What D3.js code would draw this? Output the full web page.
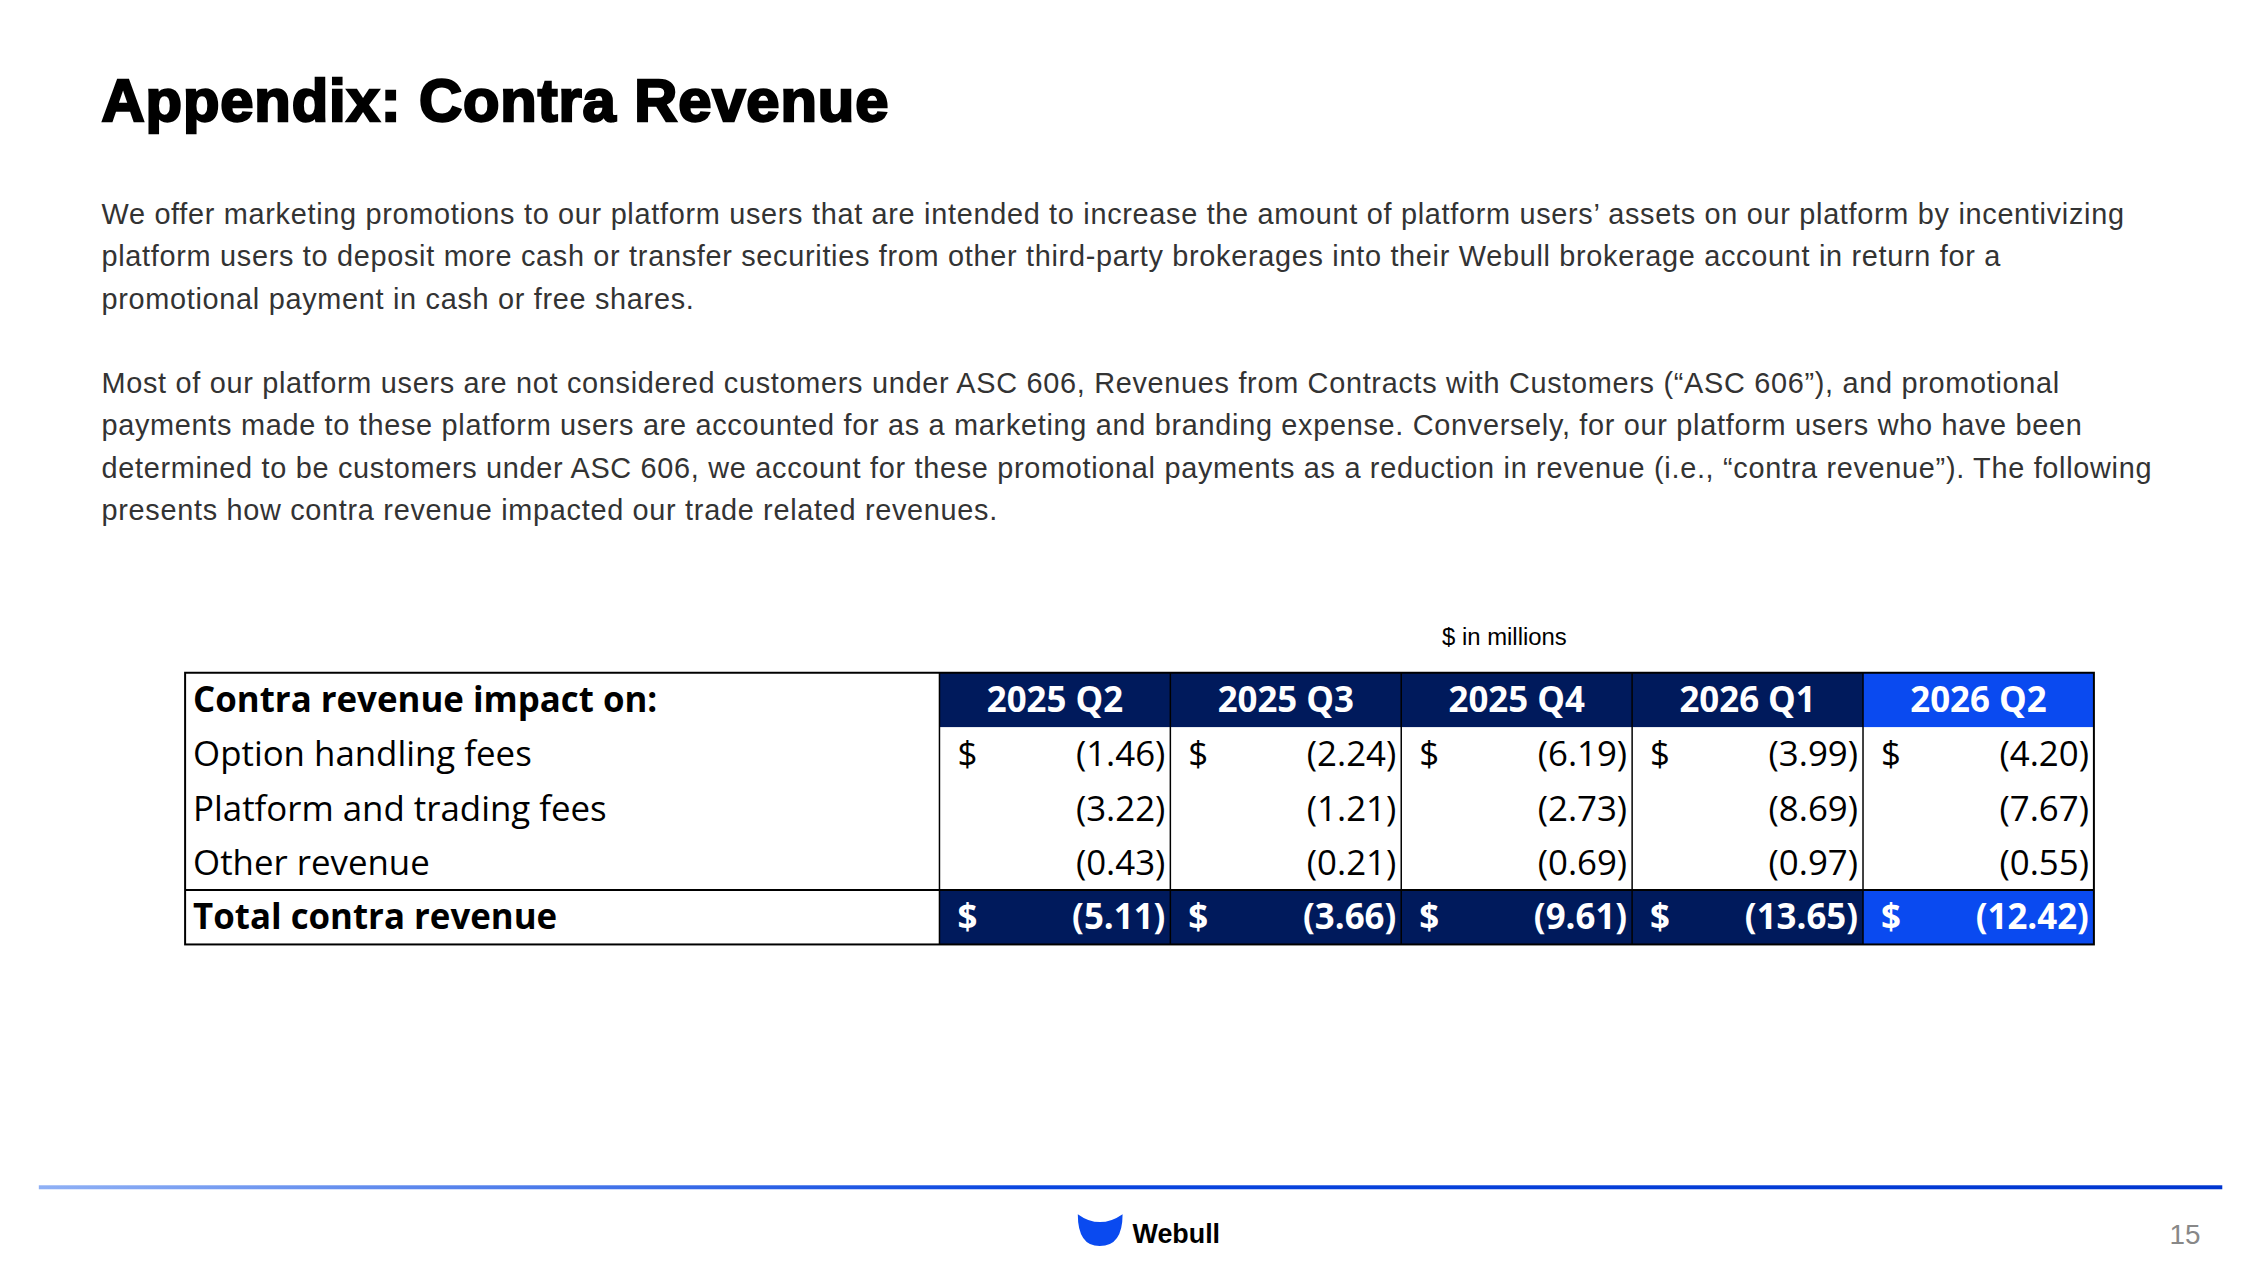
<!DOCTYPE html>
<html><head><meta charset="utf-8">
<script src="https://cdn.jsdelivr.net/npm/d3@7"></script>
<style>body{margin:0;background:#fff}svg{display:block}</style>
</head><body>
<script>
const quarters = ["2025 Q2","2025 Q3","2025 Q4","2026 Q1","2026 Q2"];
const rowLabels = ["Option handling fees","Platform and trading fees","Other revenue"];
const optionFees = [-1.46,-2.24,-6.19,-3.99,-4.20];
const platformFees = [-3.22,-1.21,-2.73,-8.69,-7.67];
const otherRevenue = [-0.43,-0.21,-0.69,-0.97,-0.55];
const totalContra = [-5.11,-3.66,-9.61,-13.65,-12.42];
const para1 = [
"We offer marketing promotions to our platform users that are intended to increase the amount of platform users’ assets on our platform by incentivizing",
"platform users to deposit more cash or transfer securities from other third-party brokerages into their Webull brokerage account in return for a",
"promotional payment in cash or free shares."];
const para2 = [
"Most of our platform users are not considered customers under ASC 606, Revenues from Contracts with Customers (“ASC 606”), and promotional",
"payments made to these platform users are accounted for as a marketing and branding expense. Conversely, for our platform users who have been",
"determined to be customers under ASC 606, we account for these promotional payments as a reduction in revenue (i.e., “contra revenue”).  The following",
"presents how contra revenue impacted our trade related revenues."];

const W=2267,H=1275;
const root=d3.select("body").append("svg").attr("width",W).attr("height",H);
const svg=root.append("g").attr("transform","scale(0.9952)");
svg.append("text").attr("x",102).attr("y",122).text("Appendix: Contra Revenue")
  .attr("font-family","Liberation Sans, Arial").attr("font-weight",900).attr("font-size",60)
  .attr("fill","#000").attr("stroke","#000").attr("stroke-width",2.4).attr("letter-spacing",0.9);
const pf="Liberation Sans, Arial";
para1.forEach((t,i)=>svg.append("text").attr("x",102).attr("y",225+i*42.5).text(t).attr("font-family",pf).attr("font-size",29).attr("letter-spacing",0.7).attr("fill","#333"));
para2.forEach((t,i)=>svg.append("text").attr("x",102).attr("y",395+i*42.5).text(t).attr("font-family",pf).attr("font-size",29).attr("letter-spacing",0.7).attr("fill","#333"));
svg.append("text").attr("x",1449).attr("y",648).text("$ in millions").attr("font-family",pf).attr("font-size",24).attr("fill","#000");

const tf="Liberation Sans Narrow, Open Sans, sans-serif";
const x=d3.scaleBand().domain(quarters).range([944,2104]);
const rowsKeys=["head",...rowLabels,"total"];
const y=d3.scaleBand().domain(rowsKeys).range([676,949]);
const dark="#001A5C", bright="#0A4AF0";
const g=svg.append("g");
const fs=35;
["head","total"].forEach(r=>{
  quarters.forEach((q,i)=>g.append("rect").attr("x",x(q)).attr("y",y(r)).attr("width",x.bandwidth()).attr("height",y.bandwidth())
    .attr("fill",i===4?bright:dark));
});
g.append("text").attr("x",194).attr("y",y("head")+y.bandwidth()/2+12).text("Contra revenue impact on:").attr("font-family",tf).attr("font-size",fs).attr("font-weight",700);
quarters.forEach(q=>g.append("text").attr("x",x(q)+x.bandwidth()/2).attr("y",y("head")+y.bandwidth()/2+12).attr("text-anchor","middle")
  .text(q).attr("font-family",tf).attr("font-size",fs).attr("font-weight",700).attr("fill","#fff"));
const fmt=v=>"("+Math.abs(v).toFixed(2)+")";
const series=[optionFees,platformFees,otherRevenue];
rowLabels.forEach((r,ri)=>{
  const cy=y(r)+y.bandwidth()/2+12;
  g.append("text").attr("x",194).attr("y",cy).text(r).attr("font-family",tf).attr("font-size",fs).attr("fill","#000");
  quarters.forEach((q,i)=>{
    if(ri===0) g.append("text").attr("x",x(q)+18).attr("y",cy).text("$").attr("font-family",tf).attr("font-size",fs);
    g.append("text").attr("x",x(q)+x.bandwidth()-5).attr("y",cy).attr("text-anchor","end").text(fmt(series[ri][i])).attr("font-family",tf).attr("font-size",fs);
  });
});
{
  const cy=y("total")+y.bandwidth()/2+12;
  g.append("text").attr("x",194).attr("y",cy).text("Total contra revenue").attr("font-family",tf).attr("font-size",fs).attr("font-weight",700);
  quarters.forEach((q,i)=>{
    g.append("text").attr("x",x(q)+18).attr("y",cy).text("$").attr("font-family",tf).attr("font-size",fs).attr("font-weight",700).attr("fill","#fff");
    g.append("text").attr("x",x(q)+x.bandwidth()-5).attr("y",cy).attr("text-anchor","end").text(fmt(totalContra[i])).attr("font-family",tf).attr("font-size",fs).attr("font-weight",700).attr("fill","#fff");
  });
}
g.append("rect").attr("x",186).attr("y",676).attr("width",2104-186).attr("height",949-676).attr("fill","none").attr("stroke","#000").attr("stroke-width",2);
g.append("line").attr("x1",186).attr("x2",2104).attr("y1",y("total")).attr("y2",y("total")).attr("stroke","#000").attr("stroke-width",2);
quarters.forEach(q=>g.append("line").attr("x1",x(q)).attr("x2",x(q)).attr("y1",676).attr("y2",949).attr("stroke","#000").attr("stroke-width",1.5));

const defs=root.append("defs");
const lg=defs.append("linearGradient").attr("id","fl");
lg.append("stop").attr("offset","0").attr("stop-color","#8fb0f5");
lg.append("stop").attr("offset","0.45").attr("stop-color","#0a46e0");
lg.append("stop").attr("offset","1").attr("stop-color","#0036d0");
svg.append("rect").attr("x",39).attr("y",1191).attr("width",2233-39).attr("height",4).attr("fill","url(#fl)");
svg.append("path").attr("d","M1083,1220 Q1083,1252 1105,1252 Q1128,1252 1128,1220 Q1105,1236 1083,1220 Z").attr("fill","#0A4AF0");
svg.append("text").attr("x",1138).attr("y",1249).text("Webull").attr("font-family","Liberation Sans Narrow, Liberation Sans").attr("font-weight",700).attr("font-size",27);
svg.append("text").attr("x",2180).attr("y",1250).text("15").attr("font-family",pf).attr("font-size",28).attr("fill","#888");
</script>
</body></html>
